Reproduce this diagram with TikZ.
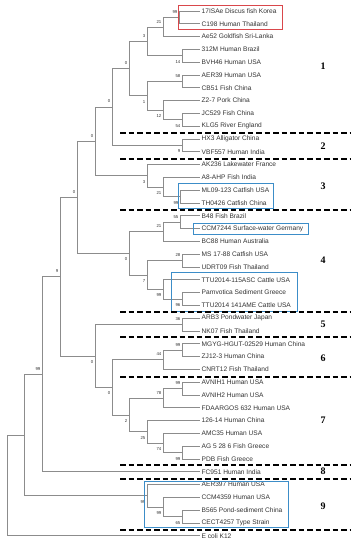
\documentclass[tikz,border=0pt]{standalone}
\usepackage{fontspec}
\newfontfamily\leaffont{Liberation Sans}
\newfontfamily\grpfont{Liberation Serif}
\definecolor{treegray}{HTML}{8C8C8C}
\definecolor{txtgray}{HTML}{333333}
\definecolor{boxred}{HTML}{D9474B}
\definecolor{boxblue}{HTML}{3C8DC8}
\begin{document}
\begin{tikzpicture}[x=1pt,y=-1pt,
 br/.style={draw=treegray,line width=0.9pt},
 leaf/.style={anchor=west,inner sep=0pt,xshift=1.5pt,font=\leaffont\fontsize{6.6}{7}\selectfont,text=txtgray},
 bsup/.style={anchor=east,inner sep=0pt,font=\leaffont\fontsize{4.3}{5}\selectfont,text=txtgray,xshift=-1.5pt,yshift=5.5pt},
 bsdn/.style={anchor=east,inner sep=0pt,font=\leaffont\fontsize{4.3}{5}\selectfont,text=txtgray,xshift=-1.5pt,yshift=-6pt},
 sep/.style={draw=black,line width=1.2pt,dash pattern=on 5.5pt off 3pt},
 grp/.style={font=\grpfont\bfseries\fontsize{10}{12}\selectfont,text=black},
 redbox/.style={draw=boxred,line width=1pt},
 bluebox/.style={draw=boxblue,line width=1pt}]
\useasboundingbox[fill=white] (0,0) rectangle (358,550);
% leaves
\foreach \t [count=\i] in {17ISAe Discus fish Korea, C198 Human Thailand, Ae52 Goldfish Sri-Lanka, 312M Human Brazil, BVH46 Human USA, AER39 Human USA, CB51 Fish China, Z2-7 Pork China, JC529 Fish China, KLG5 River England, HX3 Alligator China, VBF557 Human India, AK236 Lakewater France, A8-AHP Fish India, ML09-123 Catfish USA, TH0426 Catfish China, B48 Fish Brazil, CCM7244 Surface-water Germany, BC88 Human Australia, MS 17-88 Catfish USA, UDRT09 Fish Thailand, TTU2014-115ASC Cattle USA, Parnvotica Sediment Greece, TTU2014 141AME Cattle USA, ARB3 Pondwater Japan, NK07 Fish Thailand, MGYG-HGUT-02529 Human China, ZJ12-3 Human China, CNRT12 Fish Thailand, AVNIH1 Human USA, AVNIH2 Human USA, FDAARGOS 632 Human USA, 126-14 Human China, AMC35 Human USA, AG 5 28 6 Fish Greece, PDB Fish Greece, FC951 Human India, AER397 Human USA, CCM4359 Human USA, B565 Pond-sediment China, CECT4257 Type Strain, E coli K12}{
  \pgfmathsetmacro\yy{11+12.8*(\i-1)}
  \coordinate (L\i) at (200,\yy);
  \node[leaf] (T\i) at (L\i) {\t};
}
% internal nodes
\coordinate (n99a) at (179,17.4);
\coordinate (n21a) at (163,27.0);
\coordinate (n14)  at (182,55.8);
\coordinate (n3a)  at (147,41.4);
\coordinate (n58)  at (182,81.4);
\coordinate (n54)  at (182,119.8);
\coordinate (n12)  at (163,110.2);
\coordinate (n1)   at (147,95.8);
\coordinate (n0a)  at (129,68.6);
\coordinate (n9a)  at (182,145.4);
\coordinate (n0b)  at (112,107.0);
\coordinate (n99b) at (180,196.6);
\coordinate (n21b) at (163,187.0);
\coordinate (n3b)  at (147,175.8);
\coordinate (n0c)  at (95,141.4);
\coordinate (n55)  at (180,222.2);
\coordinate (n21c) at (163,231.8);
\coordinate (n28)  at (182,260.6);
\coordinate (n96)  at (182,299.0);
\coordinate (n99c) at (163,289.4);
\coordinate (n7)   at (147,275.0);
\coordinate (n0d)  at (129,253.4);
\coordinate (n0e)  at (77,197.4);
\coordinate (n36)  at (182,324.6);
\coordinate (n99d) at (182,350.2);
\coordinate (n44)  at (163,359.8);
\coordinate (n99e) at (182,388.6);
\coordinate (n78)  at (163,398.2);
\coordinate (n99f) at (182,452.6);
\coordinate (n74)  at (163,443.0);
\coordinate (n25)  at (147,431.8);
\coordinate (n2)   at (129,415.0);
\coordinate (n0f)  at (112,387.4);
\coordinate (n0g)  at (95,356.0);
\coordinate (n9b)  at (60,276.7);
\coordinate (n99g) at (42,374.25);
\coordinate (n65)  at (182,516.6);
\coordinate (n99h) at (163,507.0);
\coordinate (n99i) at (147,495.8);
\coordinate (nout) at (24,435.0);
\coordinate (root) at (7,485.4);
% branches
\foreach \p/\c in {n99a/L1,n99a/L2,n21a/n99a,n21a/L3,n14/L4,n14/L5,n3a/n21a,n3a/n14,
  n58/L6,n58/L7,n54/L9,n54/L10,n12/L8,n12/n54,n1/n58,n1/n12,n0a/n3a,n0a/n1,
  n9a/L11,n9a/L12,n0b/n0a,n0b/n9a,n99b/L15,n99b/L16,n21b/L14,n21b/n99b,n3b/L13,n3b/n21b,
  n0c/n0b,n0c/n3b,n55/L17,n55/L18,n21c/n55,n21c/L19,n28/L20,n28/L21,n96/L23,n96/L24,
  n99c/L22,n99c/n96,n7/n28,n7/n99c,n0d/n21c,n0d/n7,n0e/n0c,n0e/n0d,
  n36/L25,n36/L26,n99d/L27,n99d/L28,n44/n99d,n44/L29,n99e/L30,n99e/L31,n78/n99e,n78/L32,
  n99f/L35,n99f/L36,n74/L34,n74/n99f,n25/L33,n25/n74,n2/n78,n2/n25,n0f/n44,n0f/n2,
  n0g/n36,n0g/n0f,n9b/n0e,n9b/n0g,n99g/n9b,n99g/L37,
  n65/L40,n65/L41,n99h/L39,n99h/n65,n99i/L38,n99i/n99h,nout/n99g,nout/n99i,root/nout,root/L42}
  \draw[br] (\p) |- (\c);
% bootstrap values
\foreach \n/\v in {n99a/99,n21a/21,n3a/3,n58/58,n0a/0,n0b/0,n0c/0,n0e/0,n55/55,n21c/21,n28/28,
  n36/36,n99d/99,n44/44,n99e/99,n78/78,n9b/9,n99g/99}
  \node[bsup] (b\n) at (\n) {\v};
\foreach \n/\v in {n14/14,n54/54,n12/12,n1/1,n9a/9,n99b/99,n21b/21,n3b/3,n96/96,n99c/99,n7/7,
  n0d/0,n0g/0,n0f/0,n2/2,n25/25,n74/74,n99f/99,n99i/99,n99h/99,n65/65}
  \node[bsdn] (b\n) at (\n) {\v};
% highlight boxes
\draw[redbox] (178,5) rectangle (282,29);
\draw[bluebox] (178,183) rectangle (273,208);
\draw[bluebox] (193,223) rectangle (308,234);
\draw[bluebox] (171,272) rectangle (297,311);
\draw[bluebox] (144,481) rectangle (288,527);
% group separators
\foreach \y in {133,159,210,312,337,377,465,479,530}
  \draw[sep] (120,\y) -- (350,\y);
% group numbers
\foreach \g/\y in {1/66,2/146,3/186,4/260,5/324,6/358,7/420,8/471,9/506}
  \node[grp] (g\g) at (323,\y) {\g};
\end{tikzpicture}
\end{document}
